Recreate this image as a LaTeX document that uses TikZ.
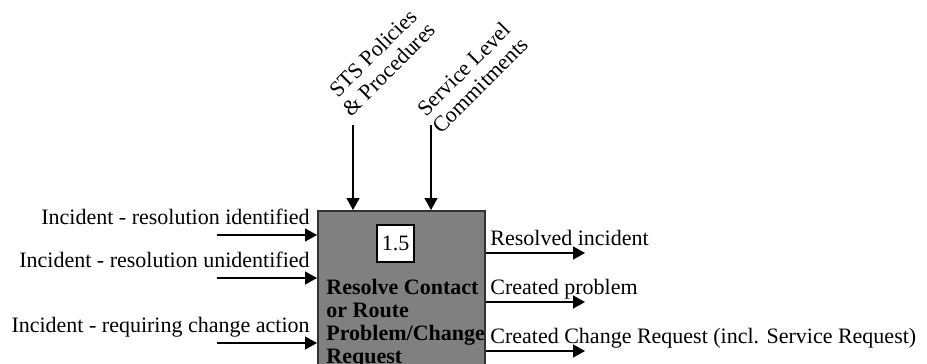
\documentclass[tikz,border=0pt]{standalone}
\usepackage{fontspec}
\setmainfont{Liberation Serif}
\usetikzlibrary{arrows.meta, positioning}

\begin{document}
\begin{tikzpicture}[x=0.5pt, y=-0.5pt,
    font=\fontsize{11}{11.5}\selectfont,
    flow/.style={draw=black, line width=0.7pt, -{Triangle[length=6pt, width=6.5pt]}},
    actbox/.style={draw=black!80, line width=0.8pt, fill=black!50, inner sep=0pt,
      minimum width=83.5pt, minimum height=90pt, anchor=north west},
    numbox/.style={draw=black, line width=0.6pt, fill=white, minimum size=18.5pt, inner sep=0pt},
    lbl/.style={inner sep=0pt}]
  \useasboundingbox (0,0) rectangle (927,364);
  \clip (0,0) rectangle (927,364);
  % activity box
  \node[actbox] (proc) at (317,210) {};
  \node[numbox] (num) at (395.5,243.5) {1.5};
  \node[lbl, anchor=north west, align=left, font=\fontsize{11}{11.5}\selectfont\bfseries]
    (ptitle) at (326,279) {Resolve Contact\\or Route\\Problem/Change\\Request};
  % controls
  \coordinate (ctl1) at (353,125);
  \coordinate (ctl2) at (431,125);
  \draw[flow] (ctl1) -- (ctl1 |- proc.north);
  \draw[flow] (ctl2) -- (ctl2 |- proc.north);
  \node[lbl, rotate=45, align=center] (lctl1) at (381,61) {STS Policies\\\& Procedures};
  \node[lbl, rotate=45, align=center] (lctl2) at (472,77) {Service Level\\Commitments};
  % inputs
  \foreach \i/\y/\txt in {1/235/Incident - resolution identified,
      2/278/Incident - resolution unidentified,
      3/343/Incident - requiring change action} {
    \coordinate (in\i) at (217,\y);
    \draw[flow] (in\i) -- (in\i -| proc.west);
    \node[lbl, anchor=base east] (lin\i) at (310,{\y-11}) {\txt};
  }
  % outputs
  \foreach \i/\y/\txt in {1/253/Resolved incident,
      2/302/Created problem,
      3/351/Created Change Request (incl. Service Request)} {
    \coordinate (out\i) at (585,\y);
    \draw[flow] (proc.east |- out\i) -- (out\i);
    \node[lbl, anchor=base west] (lout\i) at (490,{\y-8}) {\txt};
  }
\end{tikzpicture}
\end{document}
